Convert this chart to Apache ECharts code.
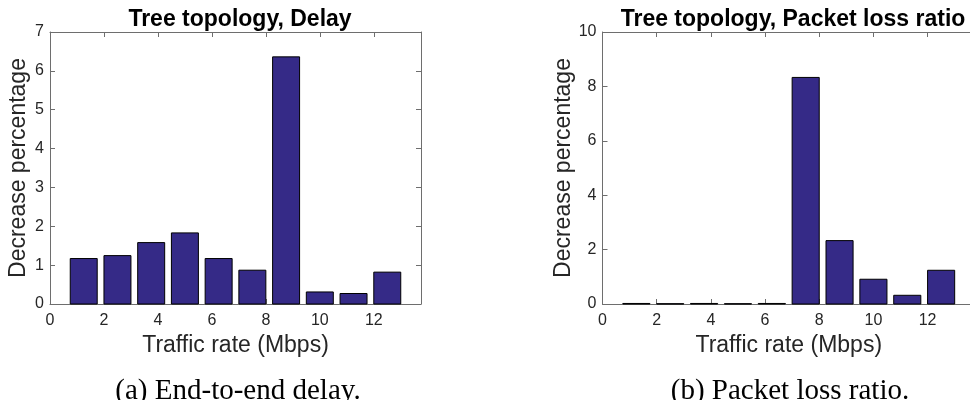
<!DOCTYPE html>
<html>
<head>
<meta charset="utf-8">
<script src="https://cdn.jsdelivr.net/npm/echarts@6/dist/echarts.min.js"></script>
<style>
  html, body { margin: 0; padding: 0; background: #fff; }
  #chart { width: 970px; height: 400px; }
</style>
</head>
<body>
<div id="chart"></div>
<script>
// Traffic rates (Mbps) at which each bar is centred
const trafficRates = [1.25, 2.5, 3.75, 5, 6.25, 7.5, 8.75, 10, 11.25, 12.5];
// Decrease percentage of end-to-end delay
const delayDecrease = [1.17, 1.245, 1.58, 1.83, 1.17, 0.87, 6.36, 0.31, 0.27, 0.82];
// Decrease percentage of packet loss ratio
const lossDecrease = [0.02, 0.01, 0.02, 0.01, 0.02, 8.33, 2.33, 0.91, 0.32, 1.24];
const xTicks = [0, 2, 4, 6, 8, 10, 12];
const barWidthUnits = 1.0;

const BAR_COLOR = '#352a87';
const AXIS_COLOR = '#6e6e6e';
const TEXT_COLOR = '#262626';
const SANS = '"Liberation Sans", Arial, Helvetica, sans-serif';
const SERIF = '"Liberation Serif", "DejaVu Serif", serif';

const chart = echarts.init(document.getElementById('chart'), null, { renderer: 'canvas' });

function pairs(values) {
  return trafficRates.map((x, i) => [x, values[i]]);
}

// bars drawn as rectangles spanning [x - w/2, x + w/2] in axis units
function renderBar(params, api) {
  const x = api.value(0), y = api.value(1);
  const p0 = api.coord([x - barWidthUnits / 2, 0]);
  const p1 = api.coord([x + barWidthUnits / 2, y]);
  return {
    type: 'rect',
    shape: { x: p0[0], y: p1[1], width: p1[0] - p0[0], height: p0[1] - p1[1] },
    style: { fill: BAR_COLOR, stroke: '#000', lineWidth: 1 }
  };
}

function xAxes(gridIndex) {
  const base = {
    gridIndex, type: 'value', min: 0, max: 13.75, interval: 2,
    axisLine: { show: true, onZero: false, lineStyle: { color: AXIS_COLOR, width: 1 } },
    axisTick: { show: true, inside: true, length: 5, lineStyle: { color: AXIS_COLOR } },
    splitLine: { show: false }
  };
  return [
    Object.assign({}, base, {
      position: 'bottom',
      name: 'Traffic rate (Mbps)', nameLocation: 'middle', nameGap: 30,
      nameTextStyle: { fontFamily: SANS, fontSize: 23, color: TEXT_COLOR },
      axisLabel: { fontFamily: SANS, fontSize: 16, color: TEXT_COLOR, margin: 9,
        formatter: v => (xTicks.includes(v) ? String(v) : '') }
    }),
    Object.assign({}, base, { position: 'top', axisLabel: { show: false } })
  ];
}

// left value axis with title; optional right-hand frame axis
function yAxes(gridIndex, max, interval, withRight) {
  const base = {
    gridIndex, type: 'value', min: 0, max, interval,
    axisLine: { show: true, onZero: false, lineStyle: { color: AXIS_COLOR, width: 1 } },
    axisTick: { show: true, inside: true, length: 5, lineStyle: { color: AXIS_COLOR } },
    splitLine: { show: false }
  };
  const axes = [
    Object.assign({}, base, {
      position: 'left',
      name: 'Decrease percentage', nameLocation: 'middle', nameGap: 20,
      nameTextStyle: { fontFamily: SANS, fontSize: 23, color: TEXT_COLOR },
      axisLabel: { fontFamily: SANS, fontSize: 16, color: TEXT_COLOR, margin: 6 }
    })
  ];
  if (withRight) {
    axes.push(Object.assign({}, base, { position: 'right', axisLabel: { show: false } }));
  }
  return axes;
}

const titleStyle = { fontFamily: SANS, fontSize: 23, fontWeight: 'bold', color: '#000' };
const captionStyle = { fontFamily: SERIF, fontSize: 29, fontWeight: 'normal', color: '#000' };

chart.setOption({
  animation: false,
  backgroundColor: '#fff',
  title: [
    { text: 'Tree topology, Delay', left: 235, top: 3, textAlign: 'center', textStyle: titleStyle },
    { text: 'Tree topology, Packet loss ratio', left: 788, top: 3, textAlign: 'center', textStyle: titleStyle },
    { text: '(a) End-to-end delay.', left: 233, top: 372, textAlign: 'center', textStyle: captionStyle },
    { text: '(b) Packet loss ratio.', left: 785, top: 372, textAlign: 'center', textStyle: captionStyle }
  ],
  grid: [
    { left: 50, top: 32, width: 371, height: 272, outerBoundsMode: 'none', containLabel: false },
    { left: 602.5, top: 32, width: 372.5, height: 272, outerBoundsMode: 'none', containLabel: false }
  ],
  xAxis: [...xAxes(0), ...xAxes(1)],
  yAxis: [...yAxes(0, 7, 1, true), ...yAxes(1, 10, 2, false)],
  series: [
    { type: 'custom', xAxisIndex: 0, yAxisIndex: 0, data: pairs(delayDecrease), renderItem: renderBar },
    { type: 'custom', xAxisIndex: 2, yAxisIndex: 2, data: pairs(lossDecrease), renderItem: renderBar }
  ]
});
</script>
</body>
</html>
